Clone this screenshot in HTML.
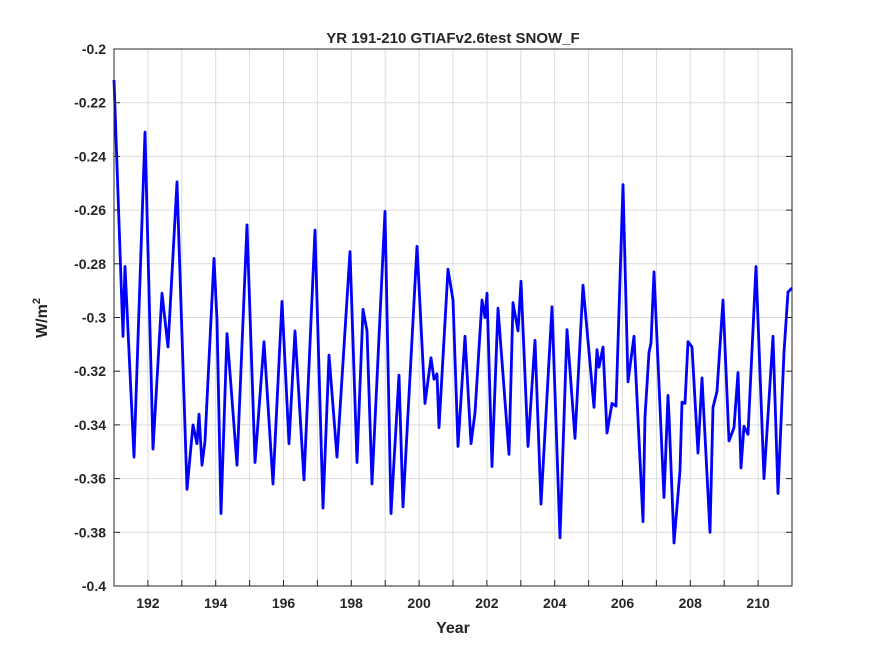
<!DOCTYPE html>
<html><head><meta charset="utf-8"><style>
body{margin:0;background:#fff;font-family:"Liberation Sans",sans-serif}
svg text{font-family:"Liberation Sans",sans-serif;font-weight:bold;fill:#262626}
</style></head><body>
<svg id="chart" width="875" height="656" viewBox="0 0 875 656" xmlns="http://www.w3.org/2000/svg">
<rect x="0" y="0" width="875" height="656" fill="#fff"/>
<g id="grid"></g>
<g id="series"></g>
<rect x="114" y="49" width="678" height="537" fill="none" stroke="#262626" stroke-width="1"/>
<g id="ticks"></g>
<text x="453" y="43" text-anchor="middle" font-size="15">YR 191-210 GTIAFv2.6test SNOW_F</text>
<text x="453" y="633" text-anchor="middle" font-size="16">Year</text>
<text transform="translate(47,318) rotate(-90)" text-anchor="middle" font-size="16">W/m<tspan dy="-7" font-size="11">2</tspan></text>
</svg>
<script>
const years=[0,.265,.324,.59,.914,1.15,1.416,1.593,1.858,2.153,2.33,2.448,2.507,2.596,2.684,2.95,3.038,3.156,3.333,3.628,3.923,4.159,4.425,4.69,4.956,5.162,5.339,5.605,5.929,6.165,6.342,6.578,6.962,7.168,7.345,7.463,7.611,7.994,8.171,8.407,8.525,8.938,9.174,9.351,9.44,9.528,9.587,9.853,10.0,10.147,10.354,10.531,10.649,10.855,10.944,11.003,11.15,11.327,11.652,11.77,11.917,12.006,12.212,12.419,12.596,12.92,13.156,13.363,13.599,13.835,14.159,14.248,14.307,14.425,14.543,14.69,14.808,15.015,15.162,15.339,15.605,15.664,15.782,15.841,15.929,16.224,16.342,16.372,16.519,16.696,16.755,16.844,16.932,17.05,17.227,17.345,17.581,17.67,17.788,17.965,18.142,18.289,18.407,18.496,18.584,18.702,18.938,19.174,19.44,19.587,19.764,19.882,20].map(v=>v+191);
const values=[-0.2115,-0.307,-0.281,-0.352,-0.231,-0.349,-0.291,-0.311,-0.2495,-0.364,-0.340,-0.347,-0.336,-0.355,-0.346,-0.278,-0.301,-0.373,-0.306,-0.355,-0.2655,-0.354,-0.309,-0.362,-0.294,-0.347,-0.305,-0.3605,-0.2675,-0.371,-0.314,-0.352,-0.2755,-0.354,-0.297,-0.305,-0.362,-0.2605,-0.373,-0.3215,-0.3705,-0.2735,-0.332,-0.315,-0.323,-0.321,-0.341,-0.282,-0.2935,-0.348,-0.307,-0.347,-0.3355,-0.2935,-0.300,-0.291,-0.3555,-0.2965,-0.351,-0.2945,-0.305,-0.2865,-0.348,-0.3085,-0.3695,-0.296,-0.382,-0.3045,-0.345,-0.288,-0.3335,-0.312,-0.3185,-0.311,-0.343,-0.332,-0.333,-0.2505,-0.324,-0.307,-0.376,-0.337,-0.313,-0.3095,-0.283,-0.367,-0.329,-0.3365,-0.384,-0.357,-0.3315,-0.332,-0.309,-0.311,-0.3505,-0.3225,-0.380,-0.3335,-0.3275,-0.2935,-0.346,-0.341,-0.3205,-0.356,-0.3405,-0.3435,-0.281,-0.36,-0.307,-0.3655,-0.313,-0.2905,-0.289];
const yTicks=[-0.2,-0.22,-0.24,-0.26,-0.28,-0.3,-0.32,-0.34,-0.36,-0.38,-0.4];
const yTickLabels=["-0.2","-0.22","-0.24","-0.26","-0.28","-0.3","-0.32","-0.34","-0.36","-0.38","-0.4"];
const xTicks=[192,194,196,198,200,202,204,206,208,210];
const X0=114,X1=792,Y0=49,Y1=586,XMIN=191,XMAX=211,YMIN=-0.4,YMAX=-0.2;
const sx=v=>X0+(v-XMIN)/(XMAX-XMIN)*(X1-X0);
const sy=v=>Y1-(v-YMIN)/(YMAX-YMIN)*(Y1-Y0);
const NS="http://www.w3.org/2000/svg";
const grid=document.getElementById('grid'),ticks=document.getElementById('ticks'),series=document.getElementById('series');
function mk(tag,attrs,parent){const e=document.createElementNS(NS,tag);for(const k in attrs)e.setAttribute(k,attrs[k]);parent.appendChild(e);return e;}
for(let yr=192;yr<=210;yr++){
  const g=mk('line',{x1:sx(yr),x2:sx(yr),y1:Y0,y2:Y1,stroke:'#dcdcdc','stroke-width':1},grid);
  
  
  const t1=mk('line',{x1:sx(yr),x2:sx(yr),y1:Y1,y2:Y1-6,stroke:'#262626'},ticks);
  
  
}
xTicks.forEach(v=>{
  const t=mk('text',{x:sx(v),y:Y1+22,'text-anchor':'middle','font-size':14},ticks);
  t.textContent=String(v);
  
  
});
yTicks.forEach((v,i)=>{
  const g=mk('line',{x1:X0,x2:X1,y1:sy(v),y2:sy(v),stroke:'#dcdcdc','stroke-width':1},grid);
  
  
  const a=mk('line',{x1:X0,x2:X0+6,y1:sy(v),y2:sy(v),stroke:'#262626'},ticks);
  
  
  const b=mk('line',{x1:X1,x2:X1-6,y1:sy(v),y2:sy(v),stroke:'#262626'},ticks);
  
  
  const t=mk('text',{x:X0-8,y:sy(v)+5,'text-anchor':'end','font-size':14},ticks);
  t.textContent=yTickLabels[i];
  
  
});
const d=years.map((y,i)=>(i?'L':'M')+sx(y).toFixed(1)+','+sy(values[i]).toFixed(1)).join('');
const p=mk('path',{d:d,fill:'none',stroke:'#0000ff','stroke-width':2.8,'stroke-linejoin':'round'},series);


</script>
</body></html>
